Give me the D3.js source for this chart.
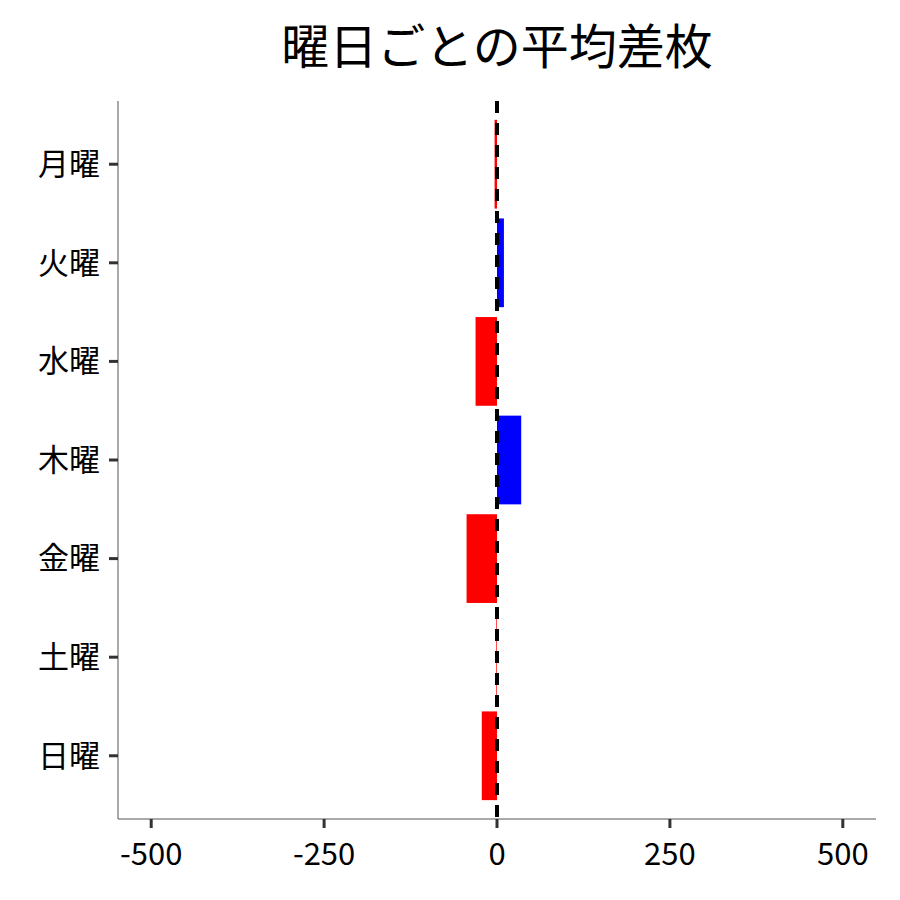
<!DOCTYPE html>
<html><head><meta charset="utf-8">
<script src="https://cdn.jsdelivr.net/npm/d3@7"></script>
<style>body{margin:0;background:#fff}text{font-family:"Noto Sans CJK JP","Noto Sans",sans-serif}</style>
</head><body><svg id="chart" width="900" height="900"></svg>
<script>
const days = ["月曜","火曜","水曜","木曜","金曜","土曜","日曜"];
const diffs = [-3.5, 10, -31, 35, -44, -1, -22];
const xTicks = [-500, -250, 0, 250, 500];

const svg = d3.select("#chart");
const plotLeft = 118, plotRight = 876, plotTop = 101, plotBottom = 819;

const x = d3.scaleLinear().domain([-548, 548]).range([plotLeft, plotRight]);
const y = d3.scaleBand().domain(days).range([110, 810]).padding(0.1);

svg.append("text").attr("x", 497).attr("y", 64).attr("text-anchor", "middle")
  .attr("font-size", 48).text("曜日ごとの平均差枚");

svg.selectAll("rect.bar").data(days).enter().append("rect")
  .attr("x", (d, i) => x(Math.min(0, diffs[i])))
  .attr("width", (d, i) => Math.abs(x(diffs[i]) - x(0)))
  .attr("y", d => y(d)).attr("height", y.bandwidth())
  .attr("fill", (d, i) => diffs[i] < 0 ? "#ff0000" : "#0000ff");

svg.append("line").attr("x1", x(0)).attr("x2", x(0)).attr("y1", plotTop).attr("y2", plotBottom)
  .attr("stroke", "#000").attr("stroke-width", 4).attr("stroke-dasharray", "12,10");

// axes
svg.append("line").attr("x1", plotLeft).attr("x2", plotLeft).attr("y1", plotTop).attr("y2", plotBottom).attr("stroke", "#555");
svg.append("line").attr("x1", plotLeft).attr("x2", plotRight).attr("y1", plotBottom).attr("y2", plotBottom).attr("stroke", "#555");

const yg = svg.append("g").selectAll("g").data(days).enter().append("g")
  .attr("transform", d => `translate(0,${y(d) + y.bandwidth() / 2})`);
yg.append("line").attr("x1", plotLeft - 9).attr("x2", plotLeft).attr("stroke", "#333").attr("stroke-width", 3);
yg.append("text").attr("x", plotLeft - 18).attr("dy", "0.35em").attr("text-anchor", "end")
  .attr("font-size", 31).text(d => d);

const xg = svg.append("g").selectAll("g").data(xTicks).enter().append("g")
  .attr("transform", d => `translate(${x(d)},${plotBottom})`);
xg.append("line").attr("y1", 0).attr("y2", 9).attr("stroke", "#333").attr("stroke-width", 3);
xg.append("text").attr("y", 46).attr("text-anchor", "middle").attr("font-size", 31).text(d => d);
</script></body></html>
